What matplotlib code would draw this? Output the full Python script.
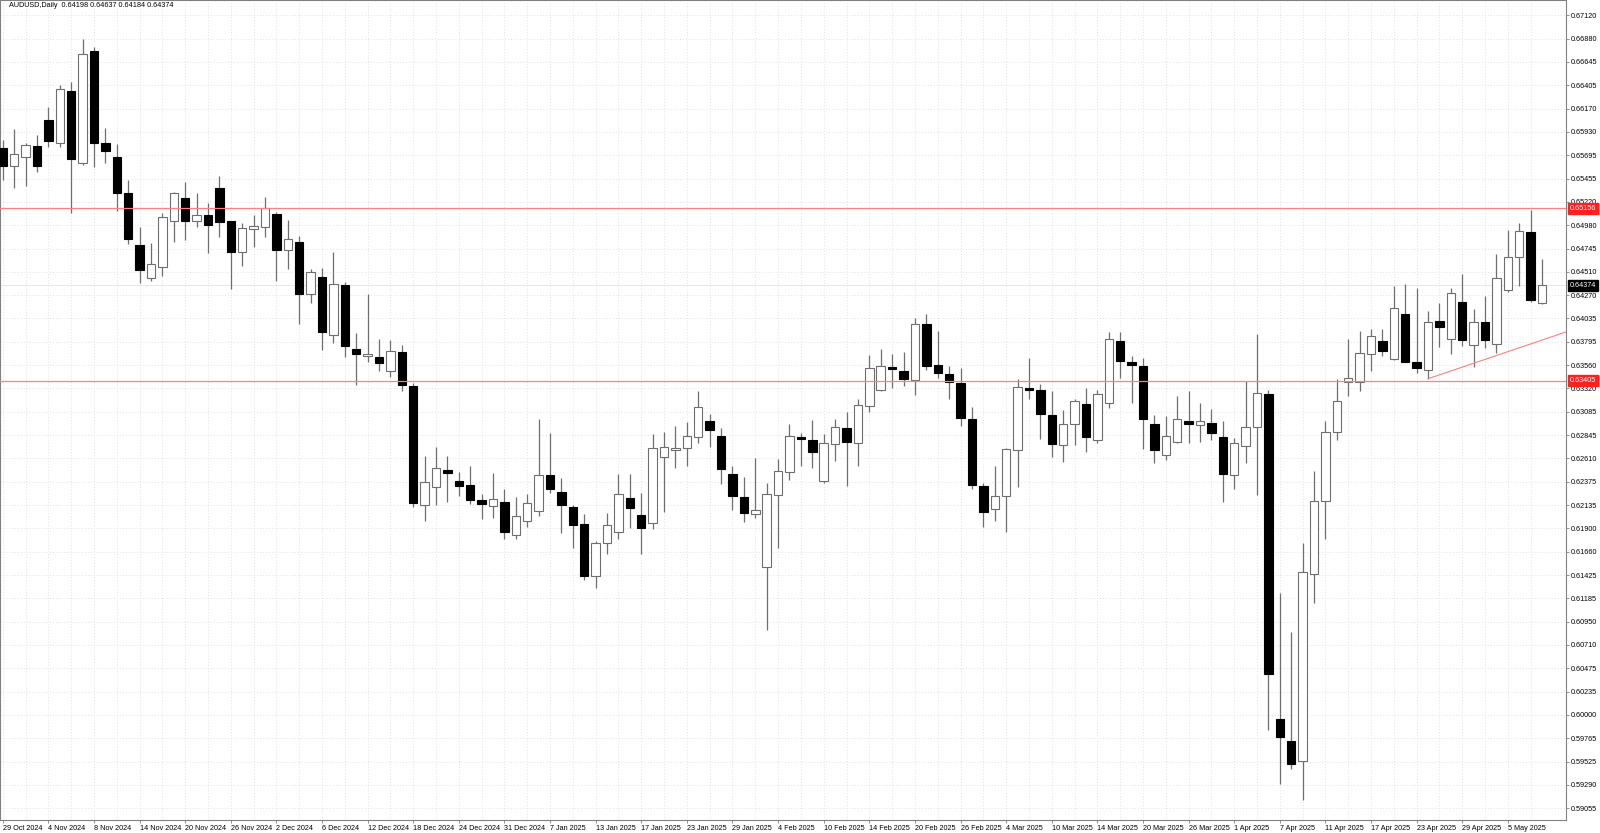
import matplotlib
matplotlib.use('Agg')
import matplotlib.pyplot as plt
import matplotlib.transforms as mtransforms
import numpy as np

plt.rcParams['font.family'] = ['Liberation Sans', 'DejaVu Sans']

# AUDUSD daily OHLC, 29 Oct 2024 .. 8 May 2025 (one value per bar)
opens = [0.65774, 0.65588, 0.65676, 0.65791, 0.66056, 0.65824, 0.66354, 0.65615, 0.66754, 0.65824,
         0.65679, 0.65310, 0.64784, 0.64452, 0.64564, 0.65023, 0.65259, 0.65031, 0.65089, 0.65361,
         0.65023, 0.64717, 0.64944, 0.64964, 0.65096, 0.64730, 0.64818, 0.64283, 0.64459, 0.63865,
         0.64374, 0.63726, 0.63651, 0.63647, 0.63506, 0.63695, 0.63352, 0.62142, 0.62325, 0.62495,
         0.62386, 0.62342, 0.62187, 0.62126, 0.62173, 0.61831, 0.61976, 0.62081, 0.62441, 0.62268,
         0.62116, 0.61949, 0.61414, 0.61749, 0.61861, 0.62207, 0.62040, 0.61953, 0.62624, 0.62695,
         0.62716, 0.62828, 0.62991, 0.62841, 0.62454, 0.62220, 0.62051, 0.61506, 0.62236, 0.62471,
         0.62831, 0.62800, 0.62386, 0.62756, 0.62926, 0.62773, 0.63143, 0.63306, 0.63543, 0.63506,
         0.63411, 0.63980, 0.63563, 0.63469, 0.63380, 0.63011, 0.62335, 0.62095, 0.62228, 0.62699,
         0.63329, 0.63306, 0.63058, 0.62746, 0.62960, 0.63163, 0.62797, 0.63173, 0.63810, 0.63591,
         0.63550, 0.62966, 0.62645, 0.62783, 0.62994, 0.62950, 0.62977, 0.62831, 0.62447, 0.62736,
         0.62930, 0.63265, 0.59960, 0.59742, 0.59534, 0.61434, 0.62177, 0.62879, 0.63387, 0.63387,
         0.63672, 0.63810, 0.63621, 0.64082, 0.63594, 0.63513, 0.64014, 0.63824, 0.64204, 0.63767,
         0.63998, 0.63773, 0.64323, 0.64659, 0.64919, 0.64198]
highs = [0.65852, 0.65961, 0.65824, 0.65903, 0.66185, 0.66411, 0.66439, 0.66876, 0.66801, 0.65977,
         0.65811, 0.65445, 0.64964, 0.64801, 0.65107, 0.65327, 0.65428, 0.65316, 0.65208, 0.65489,
         0.65030, 0.65012, 0.65089, 0.65269, 0.65123, 0.65039, 0.64876, 0.64537, 0.64547, 0.64714,
         0.64405, 0.63885, 0.64285, 0.63824, 0.63817, 0.63769, 0.63382, 0.62640, 0.62732, 0.62637,
         0.62471, 0.62536, 0.62251, 0.62461, 0.62302, 0.62217, 0.62251, 0.63011, 0.62875, 0.62410,
         0.62139, 0.62047, 0.61770, 0.62060, 0.62451, 0.62451, 0.62258, 0.62858, 0.62882, 0.62946,
         0.62984, 0.63298, 0.63068, 0.62919, 0.62539, 0.62420, 0.62614, 0.62363, 0.62607, 0.62960,
         0.62875, 0.63004, 0.62861, 0.63011, 0.63082, 0.63217, 0.63665, 0.63729, 0.63672, 0.63692,
         0.64038, 0.64079, 0.63912, 0.63553, 0.63530, 0.63133, 0.62366, 0.62536, 0.62720, 0.63418,
         0.63631, 0.63370, 0.63298, 0.63105, 0.63214, 0.63326, 0.63309, 0.63899, 0.63899, 0.63658,
         0.63631, 0.63051, 0.63044, 0.63248, 0.63298, 0.63177, 0.63116, 0.62994, 0.62820, 0.63403,
         0.63879, 0.63309, 0.61247, 0.60845, 0.61750, 0.62485, 0.62994, 0.63420, 0.63824, 0.63906,
         0.63926, 0.63926, 0.64367, 0.64384, 0.64350, 0.64116, 0.64197, 0.64344, 0.64486, 0.64130,
         0.64265, 0.64689, 0.64934, 0.65005, 0.65140, 0.64637]
lows = [0.65445, 0.65361, 0.65387, 0.65530, 0.65784, 0.65777, 0.65113, 0.65600, 0.65575, 0.65621,
        0.65133, 0.64794, 0.64401, 0.64421, 0.64472, 0.64818, 0.64835, 0.64964, 0.64700, 0.64869,
        0.64334, 0.64570, 0.64767, 0.64869, 0.64421, 0.64543, 0.63980, 0.64197, 0.63716, 0.63790,
        0.63645, 0.63356, 0.63597, 0.63506, 0.63438, 0.63301, 0.62122, 0.61979, 0.62139, 0.62173,
        0.62234, 0.62146, 0.61994, 0.62010, 0.61790, 0.61790, 0.61918, 0.62030, 0.62264, 0.61858,
        0.61705, 0.61376, 0.61298, 0.61644, 0.61796, 0.61908, 0.61637, 0.61892, 0.62071, 0.62518,
        0.62539, 0.62773, 0.62732, 0.62356, 0.62088, 0.61969, 0.62010, 0.60868, 0.61697, 0.62390,
        0.62536, 0.62518, 0.62360, 0.62590, 0.62335, 0.62536, 0.63088, 0.63298, 0.63332, 0.63352,
        0.63258, 0.63509, 0.63434, 0.63214, 0.62943, 0.62302, 0.61918, 0.61979, 0.61861, 0.62325,
        0.63214, 0.62807, 0.62630, 0.62576, 0.62749, 0.62681, 0.62766, 0.63122, 0.63428, 0.63180,
        0.62706, 0.62569, 0.62597, 0.62773, 0.62773, 0.62780, 0.62800, 0.62173, 0.62305, 0.62563,
        0.62241, 0.59851, 0.59299, 0.59451, 0.59138, 0.61146, 0.61797, 0.62800, 0.63250, 0.63300,
        0.63500, 0.63658, 0.63610, 0.63590, 0.63485, 0.63424, 0.63743, 0.63672, 0.63753, 0.63546,
        0.63733, 0.63682, 0.64310, 0.64370, 0.64201, 0.64184]
closes = [0.65588, 0.65707, 0.65801, 0.65588, 0.65842, 0.66368, 0.65662, 0.66727, 0.65818, 0.65736,
          0.65310, 0.64845, 0.64530, 0.64588, 0.65066, 0.65310, 0.65030, 0.65089, 0.64988, 0.65016,
          0.64717, 0.64954, 0.64974, 0.65164, 0.64730, 0.64842, 0.64289, 0.64513, 0.63896, 0.64384,
          0.63760, 0.63672, 0.63675, 0.63580, 0.63702, 0.63356, 0.62163, 0.62370, 0.62512, 0.62461,
          0.62335, 0.62190, 0.62146, 0.62197, 0.61868, 0.62024, 0.62156, 0.62447, 0.62298, 0.62136,
          0.61939, 0.61420, 0.61756, 0.61932, 0.62248, 0.62112, 0.61908, 0.62722, 0.62726, 0.62722,
          0.62838, 0.63133, 0.62906, 0.62505, 0.62227, 0.62061, 0.62085, 0.62246, 0.62488, 0.62841,
          0.62807, 0.62681, 0.62766, 0.62933, 0.62777, 0.63156, 0.63530, 0.63550, 0.63520, 0.63418,
          0.63980, 0.63550, 0.63479, 0.63394, 0.63027, 0.62345, 0.62068, 0.62234, 0.62706, 0.63336,
          0.63314, 0.63062, 0.62762, 0.62966, 0.63197, 0.62831, 0.63271, 0.63827, 0.63601, 0.63560,
          0.63017, 0.62696, 0.62841, 0.63017, 0.62966, 0.62991, 0.62875, 0.62454, 0.62766, 0.62930,
          0.63276, 0.60418, 0.59783, 0.59502, 0.61455, 0.62183, 0.62879, 0.63200, 0.63428, 0.63682,
          0.63858, 0.63702, 0.64146, 0.63594, 0.63536, 0.63998, 0.63953, 0.64296, 0.63817, 0.63998,
          0.63814, 0.64445, 0.64665, 0.64930, 0.64224, 0.64374]

date_labels = ['29 Oct 2024', '4 Nov 2024', '8 Nov 2024', '14 Nov 2024', '20 Nov 2024', '26 Nov 2024',
               '2 Dec 2024', '6 Dec 2024', '12 Dec 2024', '18 Dec 2024', '24 Dec 2024', '31 Dec 2024',
               '7 Jan 2025', '13 Jan 2025', '17 Jan 2025', '23 Jan 2025', '29 Jan 2025', '4 Feb 2025',
               '10 Feb 2025', '14 Feb 2025', '20 Feb 2025', '26 Feb 2025', '4 Mar 2025', '10 Mar 2025',
               '14 Mar 2025', '20 Mar 2025', '26 Mar 2025', '1 Apr 2025', '7 Apr 2025', '11 Apr 2025',
               '17 Apr 2025', '23 Apr 2025', '29 Apr 2025', '5 May 2025']

price_labels = ['0.59055', '0.59290', '0.59525', '0.59765', '0.60000', '0.60235', '0.60475', '0.60710',
                '0.60950', '0.61185', '0.61425', '0.61660', '0.61900', '0.62135', '0.62375', '0.62610',
                '0.62845', '0.63085', '0.63320', '0.63560', '0.63795', '0.64035', '0.64270', '0.64510',
                '0.64745', '0.64980', '0.65220', '0.65455', '0.65695', '0.65930', '0.66170', '0.66405',
                '0.66645', '0.66880', '0.67120']

hlines = [0.65156, 0.63405]          # horizontal levels (red)
trend_x = [125, 138]                 # trend line anchors (bar index)
trend_y = [0.63424, 0.63935]
header = 'AUDUSD,Daily  0.64198 0.64637 0.64184 0.64374'

n = len(opens)
x = np.arange(n)

fig = plt.figure(figsize=(16, 8.33), dpi=100)
ax = fig.add_axes([0.0, 13 / 833, 1566 / 1600, 820 / 833])
ax.set_xlim(-0.24, 137.1)
ax.set_ylim(0.58935, 0.67276)

# grid
ax.set_yticks([float(v) for v in np.linspace(0.59055, 0.67120, len(price_labels))])
ax.set_yticklabels(price_labels)
ax.set_xticks(x[::4])
ax.set_xticklabels(date_labels, ha='left')
ax.set_xticks(x[::2], minor=True)
ax.grid(True, which='both', axis='x', color='#e2e2e2', linestyle=(0, (1, 2)), linewidth=0.7)
ax.grid(True, which='major', axis='y', color='#e2e2e2', linestyle=(0, (1, 2)), linewidth=0.7)
ax.set_axisbelow(True)

ax.yaxis.tick_right()
ax.tick_params(axis='y', length=2, width=0.6, color='#808080', labelsize=5.2, pad=1.5)
ax.tick_params(axis='x', which='major', length=2, width=0.6, color='#808080', labelsize=5.2, pad=1.5)
ax.tick_params(axis='x', which='minor', length=0)
for lab in ax.get_xticklabels():
    lab.set_horizontalalignment('left')
for s in ax.spines.values():
    s.set_color('#808080')
    s.set_linewidth(0.8)

# candles
for i in range(n):
    o, h, l, c = opens[i], highs[i], lows[i], closes[i]
    ax.vlines(i, l, h, color='#6e6e6e', linewidth=0.9, zorder=2)
    if c >= o:
        fc, ec = 'white', '#6e6e6e'
    else:
        fc, ec = 'black', 'black'
    ax.bar(i, max(abs(c - o), 0.00002), bottom=min(o, c), width=0.74,
           facecolor=fc, edgecolor=ec, linewidth=0.8, zorder=3)

# levels and trend line
for lv in hlines:
    ax.axhline(lv, color='#ff8080', linewidth=0.9, zorder=4)
ax.plot(trend_x, trend_y, color='#ff8080', linewidth=0.8, zorder=4)

# bid line
ax.axhline(closes[-1], color='#e6e6e6', linewidth=0.7, zorder=1)

# price tags on the right axis
tr = mtransforms.blended_transform_factory(ax.transAxes, ax.transData)
for lv in hlines:
    ax.text(1.0025, lv, '%.5f' % lv, transform=tr, fontsize=5.2, color='white', va='center', ha='left',
            bbox=dict(boxstyle='square,pad=0.25', facecolor='#ff2020', edgecolor='#ff2020'), zorder=6)
ax.text(1.0025, closes[-1], '%.5f' % closes[-1], transform=tr, fontsize=5.2, color='white', va='center',
        ha='left', bbox=dict(boxstyle='square,pad=0.25', facecolor='black', edgecolor='black'), zorder=6)

ax.text(0.006, 0.997, header, transform=ax.transAxes, fontsize=5.2, va='top', ha='left', color='black')

fig.savefig('out.png', dpi=100, facecolor='white')
